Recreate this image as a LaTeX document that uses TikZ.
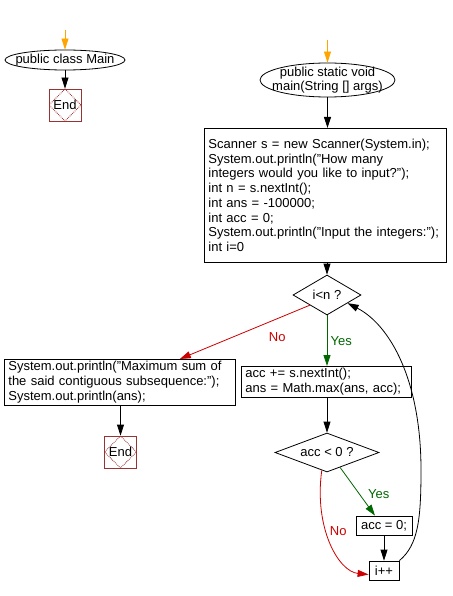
\documentclass[tikz,border=0pt]{standalone}
\usepackage{fontspec}
\setmainfont{Liberation Sans}
\usetikzlibrary{shapes.geometric,arrows.meta,calc}
\definecolor{startorange}{HTML}{FFA500}
\definecolor{nored}{HTML}{CC0000}
\definecolor{yesgreen}{HTML}{006600}
\definecolor{endred}{HTML}{993333}

\begin{document}
\begin{tikzpicture}[x=1pt,y=-1pt,
	every node/.style={font=\fontsize{13}{14.7}\selectfont},
	flow/.style={-{Triangle[width=7pt,length=11pt]}, line width=0.8pt},
	term/.style={ellipse, draw, line width=0.8pt, inner sep=0pt},
	codebox/.style={rectangle, draw, line width=0.8pt, align=left, inner xsep=4pt, inner ysep=2pt, anchor=north west},
	plainbox/.style={rectangle, draw, line width=0.8pt, inner sep=0pt},
	decide/.style={diamond, draw, line width=0.8pt, inner sep=0pt, aspect=2.5},
	endbox/.style={rectangle, draw=endred, line width=0.8pt, minimum size=32pt, inner sep=0pt,
		path picture={\draw[endred, densely dotted, line width=0.8pt] (path picture bounding box.north) -- (path picture bounding box.east) -- (path picture bounding box.south) -- (path picture bounding box.west) -- cycle;}}]
			\useasboundingbox (0,0) rectangle (452,596);
			% left: class
			\coordinate (st1) at (65,30);
			\node[term, minimum width=120pt, minimum height=20pt, label=center:public class Main] (cls) at (65,60) {};
			\node[endbox] (end1) at (65,105) {End};
			\draw[flow, startorange] (st1) -- (cls);
			\draw[flow] (cls) -- (end1);
			% right: main
			\coordinate (st2) at (327.5,40);
			\node[term, minimum width=135pt, minimum height=34pt, label={[align=center]center:public static void\\main(String [] args)}] (mainm) at (327.5,80) {};
			\node[codebox, text width=234pt, minimum height=134pt] (init) at (204,128) {Scanner s = new Scanner(System.in);\\System.out.println("How many\\integers would you like to input?");\\int n = s.nextInt();\\int ans = -100000;\\int acc = 0;\\System.out.println("Input the integers:");\\int i=0};
			\node[decide, minimum width=68pt, minimum height=40pt] (cond) at (327,295) {i<n ?};
			\node[codebox, text width=223pt] (out) at (4,359) {System.out.println("Maximum sum of\\the said contiguous subsequence:");\\System.out.println(ans);};
			\node[endbox] (end2) at (120.5,452) {End};
			\node[codebox, text width=162pt] (acc) at (241,366) {acc += s.nextInt();\\ans = Math.max(ans, acc);};
			\node[decide, minimum width=104pt, minimum height=39pt] (neg) at (327,452.5) {acc < 0 ?};
			\node[plainbox, minimum width=56pt, minimum height=19pt] (zero) at (384,525.5) {acc = 0;};
			\node[plainbox, minimum width=30pt, minimum height=19pt] (inc) at (384,570.5) {i++};
			\draw[flow, startorange] (st2) -- (mainm);
			\draw[flow] (mainm.south) -- (mainm.south |- init.north);
			\draw[flow] (init.south -| cond.north) -- (cond.north);
			\draw[flow, nored] (cond.south west) -- node[pos=0.25, below=10pt] {No} ([xshift=-56pt]out.north east);
			\draw[flow, yesgreen] (cond.south) -- node[right] {Yes} (cond.south |- acc.north);
			\draw[flow] (out.south -| end2.north) -- (end2.north);
			\draw[flow] (acc.south -| neg.north) -- (neg.north);
			\draw[flow, yesgreen] ($(neg.south)!0.25!(neg.east)$) -- node[pos=0.55, right=5pt] {Yes} ([xshift=-9pt]zero.north);
			\draw[flow, nored] ($(neg.south)!0.1!(neg.west)$) .. controls +(-8,58) and +(-30,-3) .. node[pos=0.4, right] {No} ([yshift=-4pt]inc.west);
			\draw[flow] (zero) -- (inc);
			% loop back
			\draw[flow] (inc.north east) .. controls (418,545) and (421,520) .. (421,470) .. controls (421,380) and (390,325) .. ($(cond.east)!0.4!(cond.south)$);
\end{tikzpicture}
\end{document}
